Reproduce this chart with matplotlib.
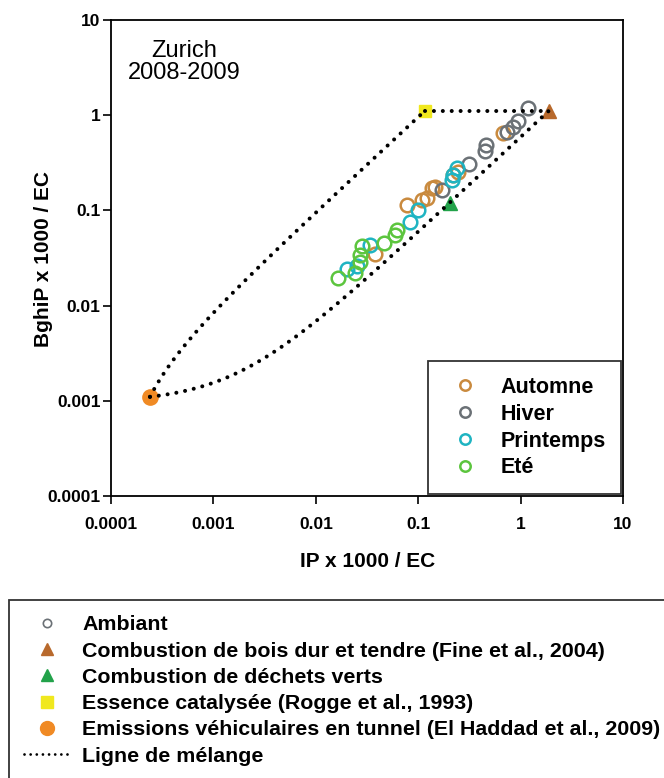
import numpy as np
import matplotlib.pyplot as plt
from matplotlib.lines import Line2D

plt.rcParams['font.family'] = ['Liberation Sans', 'DejaVu Sans']

# ambient samples (IP x 1000 / EC, BghiP x 1000 / EC)
automne_x = [0.67, 0.244, 0.22, 0.146, 0.135, 0.121, 0.108, 0.077, 0.038]
automne_y = [0.65, 0.255, 0.235, 0.177, 0.172, 0.135, 0.128, 0.114, 0.035]
hiver_x = [1.17, 0.94, 0.84, 0.73, 0.46, 0.45, 0.31, 0.17]
hiver_y = [1.18, 0.87, 0.75, 0.67, 0.49, 0.42, 0.31, 0.164]
printemps_x = [0.237, 0.22, 0.212, 0.10, 0.083, 0.034, 0.025, 0.020]
printemps_y = [0.277, 0.235, 0.209, 0.101, 0.076, 0.043, 0.026, 0.024]
ete_x = [0.062, 0.059, 0.046, 0.028, 0.027, 0.027, 0.024, 0.0165]
ete_y = [0.062, 0.055, 0.045, 0.042, 0.034, 0.029, 0.022, 0.0194]

# source profiles
bois = (1.9, 1.12)
dechets = (0.204, 0.121)
essence = (0.117, 1.12)
tunnel = (0.00024, 0.0011)

season_colors = {'Automne': '#c98a3e', 'Hiver': '#6b7176',
                 'Printemps': '#1fb4c2', 'Eté': '#5cc53e'}


def mixing(a, b):
    # linear mixing of two ratio end-members (common denominator EC)
    f = np.concatenate([[0.0], np.geomspace(1e-6, 1.0, 600)])
    return (1 - f) * a[0] + f * b[0], (1 - f) * a[1] + f * b[1]


fig = plt.figure(figsize=(6.64, 7.78), dpi=100)
ax = fig.add_axes([0.1672, 0.3625, 0.7711, 0.6118])
ax.set_xscale('log')
ax.set_yscale('log')
ax.set_xlim(1e-4, 10)
ax.set_ylim(1e-4, 10)

dot = dict(color='black', lw=2.9, ls=(0, (0.01, 2.2)),
           dash_capstyle='round', zorder=6)
for end in (essence, bois):
    mx, my = mixing(tunnel, end)
    ax.plot(mx, my, **dot)
ax.plot([essence[0], bois[0]], [essence[1], bois[1]], **dot)

ax.plot(*tunnel, 'o', color='#f08a24', ms=11, zorder=3)
ax.plot(*essence, 's', color='#f0e81e', ms=9, zorder=3)
ax.plot(*bois, '^', color='#b8692c', ms=9.5, zorder=3)
ax.plot(*dechets, '^', color='#22a24a', ms=9.5, zorder=3)

for name, xs, ys in [('Automne', automne_x, automne_y),
                     ('Hiver', hiver_x, hiver_y),
                     ('Printemps', printemps_x, printemps_y),
                     ('Eté', ete_x, ete_y)]:
    ax.plot(xs, ys, 'o', ls='none', mfc='none', mec=season_colors[name],
            ms=9.8, mew=1.8, zorder=4)

ticks = [1e-4, 1e-3, 1e-2, 1e-1, 1, 10]
labels = ['0.0001', '0.001', '0.01', '0.1', '1', '10']
ax.set_xticks(ticks)
ax.set_xticklabels(labels)
ax.set_yticks(ticks)
ax.set_yticklabels(labels)
ax.minorticks_off()
ax.tick_params(direction='out', length=6, width=1.2, labelsize=12.5)
ax.tick_params(axis='x', pad=9)
ax.tick_params(axis='y', pad=1.5)
for lab in ax.get_xticklabels() + ax.get_yticklabels():
    lab.set_fontweight('bold')
for sp in ax.spines.values():
    sp.set_linewidth(1.3)

ax.text(0.1436, 0.912, 'Zurich\n2008-2009', transform=ax.transAxes,
        ha='center', va='center', fontsize=17, linespacing=1.0)

fig.text(0.5537, 1 - 561.5 / 778, 'IP x 1000 / EC', ha='center', va='center',
         fontsize=15, fontweight='bold')
fig.text(0.066, 1 - 259 / 778, 'BghiP x 1000 / EC', ha='center', va='center',
         rotation=90, fontsize=15, fontweight='bold')

season_handles = [Line2D([], [], marker='o', ls='none', mfc='none', mec=c,
                         ms=7.5, mew=1.8) for c in season_colors.values()]
leg = ax.legend(season_handles, list(season_colors.keys()), loc='lower right',
                bbox_to_anchor=(1, 0), borderaxespad=0.1, fancybox=False,
                edgecolor='black', prop=dict(size=15.5, weight='bold'),
                handlelength=2.0, handletextpad=0.63, borderpad=0.72,
                labelspacing=0.27, numpoints=1)
leg.get_frame().set_linewidth(1.3)

src_handles = [
    Line2D([], [], marker='o', ls='none', mfc='none', mec='#6b7176', ms=6, mew=1.2),
    Line2D([], [], marker='^', ls='none', color='#b8692c', ms=9),
    Line2D([], [], marker='^', ls='none', color='#22a24a', ms=9),
    Line2D([], [], marker='s', ls='none', color='#f0e81e', ms=9),
    Line2D([], [], marker='o', ls='none', color='#f08a24', ms=10),
    Line2D([], [], color='black', lw=2.0, ls=(0, (0.01, 2.2)), dash_capstyle='round'),
]
src_labels = ['Ambiant',
              'Combustion de bois dur et tendre (Fine et al., 2004)',
              'Combustion de déchets verts',
              'Essence catalysée (Rogge et al., 1993)',
              'Emissions véhiculaires en tunnel (El Haddad et al., 2009)',
              'Ligne de mélange']
leg2 = fig.legend(src_handles, src_labels, loc='upper left',
                  bbox_to_anchor=(9 / 664, 1 - 600 / 778, 1.0, 0.0),
                  mode='expand', borderaxespad=0, fancybox=False,
                  edgecolor='black', prop=dict(size=15.4, weight='bold'),
                  handlelength=2.15, handletextpad=0.55, borderpad=0.72,
                  labelspacing=0.34, numpoints=1)
leg2.get_frame().set_linewidth(1.3)

fig.savefig('out.png', dpi=100)
